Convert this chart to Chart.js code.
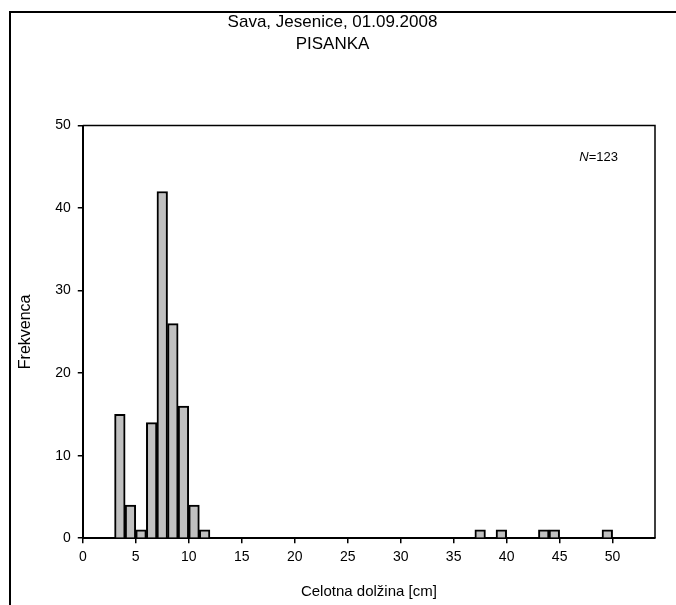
<!DOCTYPE html>
<html>
<head>
<meta charset="utf-8">
<script src="https://cdn.jsdelivr.net/npm/chart.js@4/dist/chart.umd.min.js"></script>
<style>
  html, body { margin: 0; padding: 0; background: #fff; }
  #wrap { width: 676px; height: 605px; position: relative; }
</style>
</head>
<body>
<div id="wrap"><canvas id="histChart"></canvas></div>
<script>
// Histogram dolžin – Sava, Jesenice (pisanka), razredi po 1 cm.
const TITLE_LINES = ['Sava, Jesenice, 01.09.2008', 'PISANKA'];
const X_TITLE = 'Celotna dolžina [cm]';
const Y_TITLE = 'Frekvenca';
const N_LABEL = '123';

// spodnja meja razreda [cm] in število osebkov
const binStart = [3, 4, 5, 6, 7, 8, 9, 10, 11, 37, 39, 43, 44, 49];
const counts   = [15, 4, 1, 14, 42, 26, 16, 4, 1, 1, 1, 1, 1, 1];

const X_MIN = 0, X_MAX = 54, X_STEP = 5;
const Y_MIN = 0, Y_MAX = 50, Y_STEP = 10;

const FONT = '"Liberation Sans", Arial, sans-serif';

// zunanji okvir (zgoraj, levo) + zgornji in desni rob risalne površine + oznaka N
const framePlugin = {
    id: 'frame',
    afterDraw(chart) {
        const { ctx, chartArea: a } = chart;
        ctx.save();
        ctx.strokeStyle = '#000';
        ctx.lineWidth = 2;
        ctx.beginPath();
        ctx.moveTo(10, chart.height);
        ctx.lineTo(10, 12);
        ctx.lineTo(chart.width, 12);
        ctx.stroke();

        ctx.lineWidth = 1.5;
        ctx.beginPath();
        ctx.moveTo(a.left, a.top);
        ctx.lineTo(a.right, a.top);
        ctx.lineTo(a.right, a.bottom);
        ctx.stroke();

        // N=123, desno zgoraj
        ctx.fillStyle = '#000';
        ctx.textBaseline = 'middle';
        ctx.textAlign = 'right';
        ctx.font = '13px ' + FONT;
        const rest = '=' + N_LABEL;
        const xr = a.right - 37, yc = a.top + 32;
        ctx.fillText(rest, xr, yc);
        const w = ctx.measureText(rest).width;
        ctx.font = 'italic 13px ' + FONT;
        ctx.fillText('N', xr - w, yc);
        ctx.restore();
    }
};

const axisCommon = {
    border: { display: true, color: '#000', width: 2 },
    grid: { display: true, offset: false, drawOnChartArea: false, drawTicks: true,
            tickLength: 5, color: '#000', lineWidth: 1.5 },
};

new Chart(document.getElementById('histChart').getContext('2d'), {
    type: 'bar',
    data: {
        datasets: [{
            data: binStart.map((b, i) => ({ x: b + 0.5, y: counts[i] })),
            backgroundColor: '#c0c0c0',
            borderColor: '#000',
            borderWidth: 2,
            borderSkipped: 'bottom',
            barPercentage: 1,
            categoryPercentage: 1
        }]
    },
    options: {
        responsive: true, maintainAspectRatio: false, animation: false,
        layout: { padding: { left: 10, right: 21, top: 0, bottom: 0 } },
        plugins: {
            legend: { display: false },
            tooltip: { enabled: false },
            title: {
                display: true, text: TITLE_LINES, color: '#000',
                font: { family: FONT, size: 17, weight: 'normal', lineHeight: 1.25 },
                padding: { top: 12, bottom: 71 }
            }
        },
        scales: {
            x: {
                type: 'linear', min: X_MIN, max: X_MAX, offset: false,
                ...axisCommon,
                ticks: { stepSize: X_STEP, includeBounds: false, color: '#000', padding: 6,
                         font: { family: FONT, size: 14 }, maxRotation: 0 },
                title: { display: true, text: X_TITLE, color: '#000',
                         font: { family: FONT, size: 15 }, padding: { top: 11, bottom: 4 } }
            },
            y: {
                min: Y_MIN, max: Y_MAX,
                ...axisCommon,
                ticks: { stepSize: Y_STEP, color: '#000', padding: 7,
                         font: { family: FONT, size: 14 } },
                title: { display: true, text: Y_TITLE, color: '#000',
                         font: { family: FONT, size: 16 }, padding: { top: 6, bottom: 13 } }
            }
        }
    },
    plugins: [framePlugin]
});
</script>
</body>
</html>
